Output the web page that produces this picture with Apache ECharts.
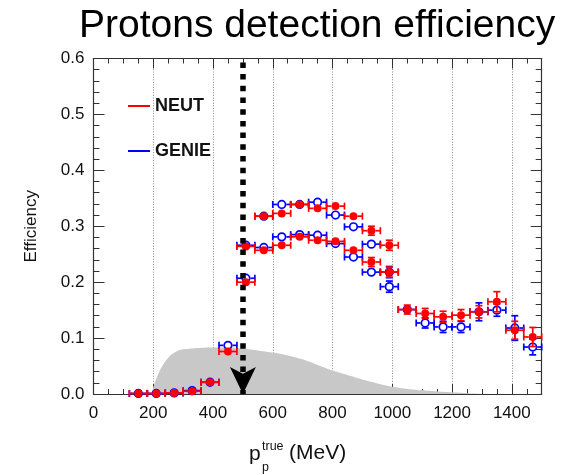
<!DOCTYPE html>
<html>
<head>
<meta charset="utf-8">
<title>Protons detection efficiency</title>
<script src="https://cdn.jsdelivr.net/npm/echarts@6/dist/echarts.min.js"></script>
<style>
  html, body { margin: 0; padding: 0; background: #fff; }
  #chart { width: 566px; height: 475px; }
</style>
</head>
<body>
<div id="chart"></div>
<script>
// Bin centres of the true proton momentum (MeV), 60 MeV wide bins
const binCenters = [150, 210, 270, 330, 390, 450, 510, 570, 630, 690, 750, 810,
                    870, 930, 990, 1050, 1110, 1170, 1230, 1290, 1350, 1410, 1470];
const binHalfWidth = 30;

// Efficiency per bin, full momentum range
const neutEff  = [0.001, 0.001, 0.002, 0.005, 0.021, 0.076, 0.200, 0.257, 0.266, 0.281, 0.275, 0.273,
                  0.257, 0.236, 0.218, 0.151, 0.144, 0.138, 0.141, 0.147, 0.165, 0.114, 0.102];
const neutErr  = [0.002, 0.002, 0.002, 0.002, 0.003, 0.004, 0.006, 0.006, 0.006, 0.006, 0.006, 0.007,
                  0.007, 0.008, 0.009, 0.008, 0.009, 0.010, 0.010, 0.011, 0.018, 0.016, 0.017];
const genieEff = [0.001, 0.001, 0.002, 0.006, 0.021, 0.087, 0.207, 0.262, 0.281, 0.285, 0.284, 0.269,
                  0.245, 0.218, 0.192, 0.151, 0.127, 0.120, 0.120, 0.147, 0.150, 0.118, 0.084];
const genieErr = [0.002, 0.002, 0.002, 0.002, 0.003, 0.004, 0.006, 0.006, 0.006, 0.006, 0.006, 0.007,
                  0.007, 0.008, 0.010, 0.008, 0.009, 0.010, 0.010, 0.016, 0.011, 0.022, 0.014];

// Second set of points over 510-990 MeV
const upperBins     = [510, 570, 630, 690, 750, 810, 870, 930, 990];
const neutUpper     = [0.264, 0.318, 0.323, 0.339, 0.332, 0.336, 0.318, 0.292, 0.266];
const neutUpperErr  = [0.006, 0.006, 0.006, 0.006, 0.006, 0.007, 0.007, 0.008, 0.009];
const genieUpper    = [0.266, 0.318, 0.339, 0.339, 0.343, 0.320, 0.299, 0.268, 0.218];
const genieUpperErr = [0.006, 0.006, 0.006, 0.006, 0.006, 0.007, 0.007, 0.008, 0.010];

// True momentum distribution (arbitrary normalisation), shaded
const distMomentum = [193, 205, 220, 240, 260, 280, 300, 340, 400, 450, 500, 550, 600, 650,
                      700, 750, 800, 850, 900, 950, 1000, 1050, 1100, 1150, 1200, 1250, 1300];
const distValue    = [0, 0.020, 0.040, 0.058, 0.070, 0.077, 0.080, 0.082, 0.083, 0.083, 0.081, 0.078,
                      0.074, 0.069, 0.062, 0.052, 0.042, 0.034, 0.026, 0.019, 0.013, 0.009, 0.0065,
                      0.0045, 0.003, 0.0015, 0];

// Momentum threshold marked by the arrow
const cutMomentum = 500;
const arrowTop = 0.593;
const arrowTip = 0;

// Axis ranges and ticks
const xMin = 0, xMax = 1500, xMajor = 200, xMinor = 50;
const yMin = 0, yMax = 0.6, yMajor = 0.1;

const FONT = "'Liberation Sans', Arial, Helvetica, sans-serif";
const RED = '#ff0000';
const BLUE = '#0000ff';
const FRAME = '#333333';

function zipPoints(xs, ys, es) {
  return xs.map((x, i) => [x, ys[i], es[i]]);
}

// Draws one point: horizontal bin-width bar, vertical error bar, end caps and marker
function errorBarRenderer(color, open) {
  return function (params, api) {
    const x = api.value(0), y = api.value(1), e = api.value(2);
    const c = api.coord([x, y]);
    const xl = api.coord([x - binHalfWidth, y])[0];
    const xr = api.coord([x + binHalfWidth, y])[0];
    const yt = api.coord([x, y + e])[1];
    const yb = api.coord([x, y - e])[1];
    const R = open ? 4.6 : 4.0;
    const cap = 3.5;
    const st = { stroke: color, lineWidth: 1.7, fill: null };
    const kids = [];
    const seg = (x1, y1, x2, y2) =>
      kids.push({ type: 'line', shape: { x1, y1, x2, y2 }, style: st });
    seg(xl, c[1], c[0] - R, c[1]);
    seg(c[0] + R, c[1], xr, c[1]);
    seg(xl, c[1] - cap, xl, c[1] + cap);
    seg(xr, c[1] - cap, xr, c[1] + cap);
    if (c[1] - yt > R) {
      seg(c[0], yt, c[0], c[1] - R);
      seg(c[0], c[1] + R, c[0], yb);
      seg(c[0] - cap, yt, c[0] + cap, yt);
      seg(c[0] - cap, yb, c[0] + cap, yb);
    }
    if (open) {
      kids.push({ type: 'circle', shape: { cx: c[0], cy: c[1], r: R - 0.8 },
                  style: { stroke: color, lineWidth: 1.7, fill: null } });
    } else {
      kids.push({ type: 'circle', shape: { cx: c[0], cy: c[1], r: R },
                  style: { fill: color } });
    }
    return { type: 'group', children: kids };
  };
}

function pointSeries(name, color, open, data, z) {
  return {
    name: name,
    type: 'custom',
    xAxisIndex: 0,
    yAxisIndex: 0,
    z: z,
    itemStyle: { color: color },
    encode: { x: 0, y: 1 },
    data: data,
    renderItem: errorBarRenderer(color, open),
    animation: false
  };
}

function xAxisDef(position, major) {
  return {
    type: 'value', position: position, min: xMin, max: xMax,
    interval: major ? xMajor : xMinor,
    axisLine: { show: major, onZero: false, lineStyle: { color: FRAME, width: 1.2 } },
    axisTick: { show: true, inside: true, length: major ? 10 : 5,
                lineStyle: { color: FRAME, width: 1 } },
    axisLabel: {
      show: major && position === 'bottom', margin: 11,
      fontFamily: FONT, fontSize: 17, color: '#111',
      formatter: v => (v % xMajor === 0 ? String(v) : '')
    },
    splitLine: {
      show: major && position === 'bottom',
      lineStyle: { color: '#8c8c8c', type: [1, 1.6], width: 1 }
    }
  };
}

function yAxisDef(position) {
  const left = position === 'left';
  return {
    type: 'value', position: position, min: yMin, max: yMax, interval: yMajor,
    name: left ? 'Efficiency' : '',
    nameLocation: 'middle', nameRotate: 90, nameGap: 54,
    nameTextStyle: { fontFamily: FONT, fontSize: 17, color: '#111' },
    axisLine: { show: true, onZero: false, lineStyle: { color: FRAME, width: 1.2 } },
    axisTick: { show: true, inside: true, length: 11, lineStyle: { color: FRAME, width: 1 } },
    minorTick: { show: true, splitNumber: 5, length: 6, lineStyle: { color: FRAME, width: 1 } },
    axisLabel: {
      show: left, margin: 9, fontFamily: FONT, fontSize: 17, color: '#111',
      formatter: v => v.toFixed(1)
    },
    splitLine: { show: false }
  };
}

const chart = echarts.init(document.getElementById('chart'), null, { renderer: 'canvas' });

chart.setOption({
  backgroundColor: '#ffffff',
  animation: false,
  title: {
    text: 'Protons detection efficiency',
    left: 79, top: 6, padding: 0,
    textStyle: { fontFamily: FONT, fontSize: 39, fontWeight: 'normal', color: '#000', lineHeight: 40 }
  },
  grid: { left: 93.5, right: 24.3, top: 58.5, bottom: 81, containLabel: false },
  legend: {
    orient: 'vertical', left: 123, top: 91,
    itemWidth: 22, itemHeight: 2, itemGap: 25, icon: 'rect',
    selectedMode: false,
    data: ['NEUT', 'GENIE'],
    textStyle: { fontFamily: FONT, fontWeight: 'bold', fontSize: 18, lineHeight: 20, color: '#111' }
  },
  xAxis: [xAxisDef('bottom', true), xAxisDef('bottom', false), xAxisDef('top', true), xAxisDef('top', false)],
  yAxis: [yAxisDef('left'), yAxisDef('right')],
  graphic: [
    {
      type: 'group', left: 249, top: 440,
      children: [
        { type: 'text', x: 0, y: 4, style: { text: 'p', font: '21px ' + FONT, fill: '#111' } },
        { type: 'text', x: 13, y: 0, style: { text: 'true', font: '12.5px ' + FONT, fill: '#111' } },
        { type: 'text', x: 13, y: 21, style: { text: 'p', font: '12.5px ' + FONT, fill: '#111' } },
        { type: 'text', x: 40, y: 3, style: { text: '(MeV)', font: '21px ' + FONT, fill: '#111' } }
      ]
    }
  ],
  series: [
    {
      name: 'distribution',
      type: 'line',
      xAxisIndex: 0, yAxisIndex: 0,
      z: 1,
      smooth: 0.2,
      showSymbol: false,
      silent: true,
      lineStyle: { width: 0 },
      areaStyle: { color: '#c8c8c8', opacity: 1 },
      data: distMomentum.map((x, i) => [x, distValue[i]]),
      markLine: {
        silent: true,
        z: 5,
        symbol: ['none', 'arrow'],
        symbolSize: [19.5, 27],
        label: { show: false },
        lineStyle: { color: '#000', width: 5.5, type: [5.5, 6.2], cap: 'butt' },
        data: [[{ coord: [cutMomentum, arrowTop] }, { coord: [cutMomentum, arrowTip] }]]
      }
    },
    pointSeries('GENIE', BLUE, true, zipPoints(binCenters, genieEff, genieErr), 3),
    pointSeries('GENIE', BLUE, true, zipPoints(upperBins, genieUpper, genieUpperErr), 3),
    pointSeries('NEUT', RED, false, zipPoints(binCenters, neutEff, neutErr), 4),
    pointSeries('NEUT', RED, false, zipPoints(upperBins, neutUpper, neutUpperErr), 4)
  ]
});
</script>
</body>
</html>
